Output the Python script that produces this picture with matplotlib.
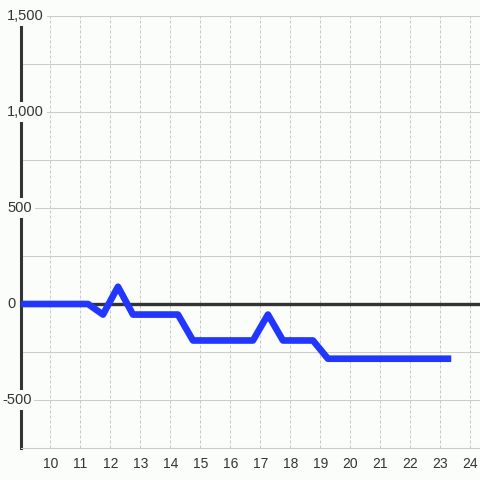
import matplotlib
matplotlib.use("Agg")
import matplotlib.pyplot as plt
from matplotlib.transforms import offset_copy

# ---- data ----
hours = [8.75, 9.25, 9.75, 10.25, 10.75, 11.25, 11.75, 12.25, 12.75, 13.25,
         13.75, 14.25, 14.75, 15.25, 15.75, 16.25, 16.75, 17.25, 17.75, 18.25,
         18.75, 19.25, 19.75, 20.25, 20.75, 21.25, 21.75, 22.25, 22.75, 23.25]
values = [0, 0, 0, 0, 0, 0, -55, 90, -55, -55,
          -55, -55, -190, -190, -190, -190, -190, -55, -190, -190,
          -190, -285, -285, -285, -285, -285, -285, -285, -285, -285]
x_ticks = [10, 11, 12, 13, 14, 15, 16, 17, 18, 19, 20, 21, 22, 23, 24]
y_grid = [-750, -500, -250, 0, 250, 500, 750, 1000, 1250, 1500]
y_label_vals = [-500, 0, 500, 1000, 1500]
y_labels = ["-500", "0", "500", "1,000", "1,500"]

plt.rcParams['font.family'] = ['Liberation Sans', 'DejaVu Sans']
bg = '#fbfdfb'
txt = '#333333'

fig = plt.figure(figsize=(4.8, 4.8), dpi=100, facecolor=bg)
W = 480.0
ax = fig.add_axes([20.5 / W, 32 / W, (W - 20.5) / W, 432 / W])
ax.set_facecolor(bg)
ax.set_xlim(9, 24.32)
ax.set_ylim(-750, 1500)

ax.set_xticks(x_ticks)
ax.set_yticks(y_grid)
ax.grid(axis='y', color='#cccccc', lw=0.75, ls='-', zorder=0)
ax.grid(axis='x', color='#c8c8c8', lw=0.75, ls=(0, (2.9, 1.9)), zorder=0)
ax.set_axisbelow(True)

ax.spines['right'].set_visible(False)
for s in ['top', 'bottom']:
    ax.spines[s].set_color('#cccccc')
    ax.spines[s].set_linewidth(0.75)
ax.spines['left'].set_color('#333333')
ax.spines['left'].set_linewidth(2.2)

ax.tick_params(axis='both', length=0)
ax.tick_params(axis='x', pad=6.5, labelsize=10, labelcolor=txt)
ax.tick_params(axis='y', labelleft=False)

ax.axhline(0, color='#333333', lw=2.4, zorder=3)
ax.plot(hours, values, color='#2136ff', lw=4.8, solid_capstyle='projecting',
        solid_joinstyle='round', zorder=4)

for v, lab in zip(y_label_vals, y_labels):
    dx = -13.5 - (5 if lab.startswith('-') else 0)
    tr = offset_copy(ax.get_yaxis_transform(), fig=fig, x=dx, y=0, units='dots')
    ax.text(0, v, lab, transform=tr, ha='left', va='center', fontsize=10.5,
            color=txt, zorder=6, clip_on=False,
            bbox=dict(boxstyle='square,pad=0.2', fc=bg, ec='none'))

fig.savefig('out.png', dpi=100, facecolor=bg)
